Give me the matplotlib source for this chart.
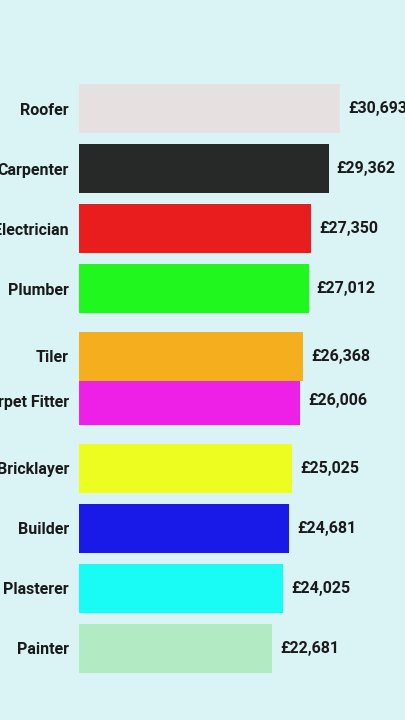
import matplotlib
matplotlib.use("Agg")
import matplotlib.pyplot as plt

# Data
jobs = ["Roofer", "Carpenter", "Electrician", "Plumber", "Carpet Fitter",
        "Tiler", "Bricklayer", "Builder", "Plasterer", "Painter"]
salaries = [30693, 29362, 27350, 27012, 26006, 26368, 25025, 24681, 24025, 22681]
# animated rank positions (frame of a bar chart race)
ranks = [0, 1, 2, 3, 4.87, 4.13, 6, 7, 8, 9]
colors = ["#e6e0e0", "#272929", "#e91d1d", "#1ff71f", "#ee1fe6",
          "#f4ae1e", "#edfd1f", "#1a1ae8", "#19fbf5", "#b2eac4"]

bg = "#daf3f5"
plt.rcParams['font.family'] = ['Roboto', 'DejaVu Sans']

fig = plt.figure(figsize=(4.05, 7.2), dpi=100, facecolor=bg)
ax = fig.add_axes([79 / 405, 12 / 720, 306 / 405, 659 / 720])
ax.set_facecolor(bg)

ax.barh(ranks, salaries, height=0.82, color=colors, linewidth=0)
for r, v in zip(ranks, salaries):
    ax.annotate(f"£{v:,}", xy=(v, r), xytext=(5.8, 0), textcoords="offset points",
                ha="left", va="center", fontsize=11.5, fontweight="bold",
                color="#1a1a1a", annotation_clip=False)

ax.set_xlim(0, 36000)
ax.set_ylim(10.0, -1.0)
ax.set_yticks(ranks)
ax.set_yticklabels(jobs, fontsize=11.5, fontweight="bold", color="#1a1a1a")
ax.tick_params(axis="y", length=0, pad=7.2)
ax.set_xticks([])
for s in ax.spines.values():
    s.set_visible(False)

fig.savefig("out.png", dpi=100, facecolor=bg)
